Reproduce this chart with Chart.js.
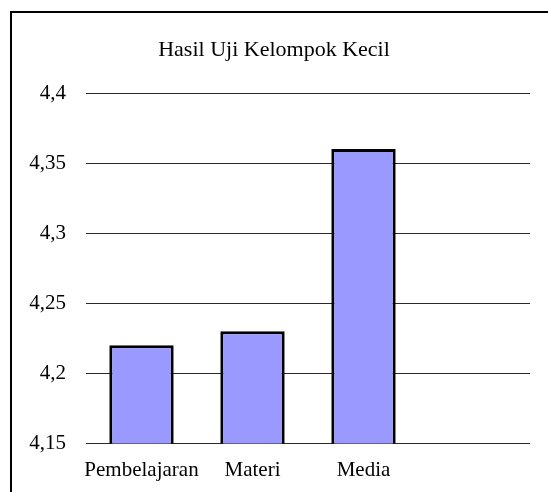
<!DOCTYPE html>
<html>
<head>
<meta charset="utf-8">
<script src="https://cdn.jsdelivr.net/npm/chart.js@4"></script>
<style>
  html, body { margin: 0; padding: 0; background: #fff; overflow: hidden; }
  #wrap { position: relative; width: 548px; height: 492px; }
  #frame {
    position: absolute; left: 10px; top: 11px; width: 700px; height: 700px;
    border: 2px solid #000; pointer-events: none;
  }
  canvas { position: absolute; left: 0; top: 0; }
</style>
</head>
<body>
<div id="wrap">
  <canvas id="chart" width="548" height="492"></canvas>
  <div id="frame"></div>
</div>
<script>
// Hasil Uji Kelompok Kecil - bar chart
const categories = ['Pembelajaran', 'Materi', 'Media', ''];
const scores = [4.22, 4.23, 4.36, null];
const yTicks = { min: 4.15, max: 4.4, step: 0.05 };

const serif = '"Liberation Serif", "Times New Roman", serif';

const ctx = document.getElementById('chart').getContext('2d');
new Chart(ctx, {
    type: 'bar',
    data: {
        labels: categories,
        datasets: [{
            data: scores,
            backgroundColor: '#9999ff',
            borderColor: '#000',
            borderWidth: 3,
            borderSkipped: false,
            categoryPercentage: 1,
            barPercentage: 0.58
        }]
    },
    options: {
        responsive: false,
        animation: false,
        layout: { padding: { left: 18, right: 18, top: 0, bottom: 0 } },
        plugins: {
            legend: { display: false },
            tooltip: { enabled: false },
            title: {
                display: true,
                text: 'Hasil Uji Kelompok Kecil',
                color: '#000',
                font: { family: serif, size: 22, weight: 'normal', lineHeight: 1.2 },
                padding: { top: 37, bottom: 29.6 }
            }
        },
        scales: {
            x: {
                grid: { display: false },
                border: { display: false },
                ticks: {
                    color: '#000',
                    padding: 6,
                    maxRotation: 0,
                    autoSkip: false,
                    font: { family: serif, size: 21 }
                },
                afterFit: s => { s.height = 48.5; }
            },
            y: {
                min: yTicks.min,
                max: yTicks.max,
                border: { display: false },
                grid: { color: '#2a2a2a', lineWidth: 1, drawTicks: false },
                ticks: {
                    stepSize: yTicks.step,
                    color: '#000',
                    padding: 20,
                    font: { family: serif, size: 21 },
                    callback: v => String(Number(v.toFixed(2))).replace('.', ',')
                },
                afterFit: s => { s.width = 68; }
            }
        }
    }
});
</script>
</body>
</html>
